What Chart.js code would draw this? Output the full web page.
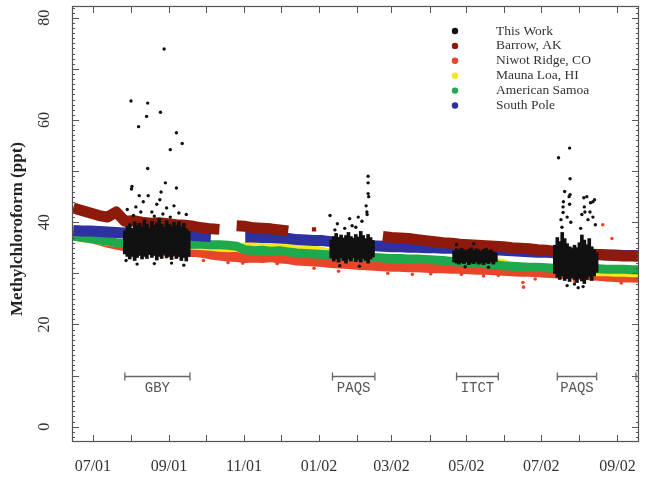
<!DOCTYPE html>
<html><head><meta charset="utf-8">
<script src="https://cdn.jsdelivr.net/npm/chart.js@4.4.1/dist/chart.umd.min.js"></script>
<style>html,body{margin:0;padding:0;background:#fff}canvas{display:block}</style>
</head><body><canvas id="c" width="646" height="478"></canvas>
<script>
// ---------- DATA (x = days since 1 July 2001, y = ppt) ----------
const seriesNames  = ['This Work','Barrow, AK','Niwot Ridge, CO','Mauna Loa, HI','American Samoa','South Pole'];
const seriesColors = ['#111111','#8e1a0c','#e8452a','#f6e61c','#1fa84c','#2d31a2'];

const weekDays = [-16,-9,-2,5,12,19,26,33,40,47,54,61,68,75,82,89,96,103,110,117,
  124,131,138,145,152,159,166,173,180,187,194,201,208,215,222,229,236,243,250,257,
  264,271,278,285,292,299,306,313,320,327,334,341,348,355,362,369,376,383,390,397,
  404,411,418,425,432,439,446];

const barrow = [42.8,42.3,41.8,41.3,41.0,42.0,40.2,40.3,40.0,39.8,39.9,39.7,39.5,39.4,39.2,38.9,38.7,38.6,null,39.3,
  39.2,38.9,38.8,38.7,38.5,38.3,null,null,38.6,null,null,null,null,null,null,null,37.2,37.0,36.9,36.8,
  36.6,36.4,36.2,36.0,35.9,35.7,35.6,35.5,35.4,35.3,35.2,35.0,34.9,34.8,34.6,34.5,34.3,34.2,34.0,33.9,
  33.8,33.7,33.6,33.5,33.4,33.4,33.3];

const southPole = [38.4,38.3,38.3,38.2,38.1,38.0,37.9,37.8,37.8,37.7,37.7,37.6,37.6,37.5,37.4,37.3,37.2,null,null,null,
  37.1,37.1,37.0,37.0,36.9,36.8,36.6,36.5,36.4,36.4,36.2,36.0,35.9,35.7,35.6,35.4,35.3,35.2,35.2,35.1,
  35.1,35.0,35.0,34.9,34.9,34.8,34.8,34.7,34.6,34.6,34.5,34.4,34.3,34.2,34.1,34.1,34.0,33.9,33.8,33.8,
  33.7,33.7,33.6,33.6,33.5,33.5,33.4];

const samoa = [37.3,37.0,36.8,36.5,36.3,36.0,35.8,35.8,35.8,35.7,35.7,35.6,35.6,35.6,35.7,35.7,35.6,35.6,35.5,35.3,
  34.6,34.4,34.5,34.3,34.4,34.2,34.0,33.9,33.8,33.7,33.6,33.5,33.4,33.3,33.2,33.1,33.0,32.9,32.9,32.8,
  32.8,32.7,32.6,32.5,32.3,32.2,32.1,32.0,31.8,31.7,31.5,31.4,31.3,31.2,31.2,31.1,31.0,31.0,30.9,30.9,
  30.9,30.9,30.8,30.8,30.8,30.7,30.7];

const maunaLoa = [37.0,36.7,36.4,36.2,36.0,35.8,35.6,35.5,35.4,35.4,35.3,35.3,35.2,35.2,35.2,35.1,35.0,34.8,34.7,34.8,
  35.5,35.7,35.6,35.4,35.6,35.3,35.0,34.9,34.8,34.6,34.2,34.0,33.8,33.6,33.4,33.3,33.2,33.0,32.9,32.8,
  32.8,32.7,32.6,32.5,32.3,32.2,32.1,32.0,31.9,32.4,32.2,31.5,31.3,31.1,31.0,30.9,30.8,30.7,30.6,30.4,
  30.2,30.0,30.0,29.9,29.9,29.8,29.8];

const niwot = [38.0,37.4,36.9,36.5,36.0,35.6,35.3,35.0,34.8,34.6,34.5,34.3,34.2,34.1,34.2,34.0,33.7,33.5,33.3,33.2,
  33.0,33.1,33.0,33.2,32.9,32.8,32.5,32.4,32.3,32.2,32.0,31.9,31.8,31.7,31.6,31.5,31.4,31.3,31.3,31.2,
  31.2,31.1,31.0,31.0,30.9,30.9,30.8,30.7,30.7,30.6,30.5,30.4,30.3,30.3,30.2,30.1,30.0,29.9,29.8,29.7,
  29.6,29.5,29.4,29.3,29.2,29.2,29.1];

const niwotExtraDays   = [415,422.5,350,350.5,260,330,200,110,90,150,240,300,360,430,180,60,275,318,392,122];
const niwotExtraValues = [39.5,36.8,28.2,27.3,29.8,29.6,30.4,32.1,32.5,31.9,30.0,29.8,28.9,28.1,31.0,33.2,29.9,29.5,28.6,32.0];

// This Work: daily ranges of the dense measurement clouds (GBY, PAQS, ITCT, PAQS)
const thisWorkDays = [26,28,30,32,34,36,38,40,42,44,46,48,50,52,54,56,58,60,62,64,66,68,70,72,74,76,78,
  194,196,198,200,202,204,206,208,210,212,214,216,218,220,222,224,226,228,
  294,296,298,300,302,304,306,308,310,312,314,316,318,320,322,324,326,328,
  376,378,380,382,384,386,388,390,392,394,396,398,400,402,404,406,408,410];
const thisWorkLow = [33.8,33.3,32.8,33.3,32.5,33.1,33.5,32.8,33.3,32.9,33.7,33.1,33.5,32.6,33.3,32.9,33.7,33.1,33.3,32.7,33.5,32.9,33.3,32.5,33.1,32.4,33.3,
  33.0,32.4,32.8,32.2,33.0,32.5,32.0,32.8,32.4,33.0,32.3,32.7,32.2,32.9,32.5,32.0,32.8,33.2,
  32.2,32.0,31.8,32.1,31.9,32.2,31.7,32.0,31.9,32.2,31.8,32.0,31.7,32.1,31.9,32.2,31.8,32.3,
  30.0,29.2,28.8,29.5,28.6,29.0,28.4,29.2,28.8,28.2,29.0,28.5,28.0,28.8,29.4,28.6,29.5,30.2];
const thisWorkHigh = [38.3,39.2,39.7,38.8,40.1,39.4,39.8,39.1,40.5,39.6,38.9,40.2,39.4,39.9,40.7,39.6,39.0,40.3,39.6,39.2,40.0,39.4,40.1,39.1,39.8,38.7,38.2,
  36.5,37.2,37.8,37.0,37.5,36.8,37.4,38.0,37.2,36.9,37.6,37.1,38.2,37.4,36.8,37.6,37.0,36.4,
  34.4,34.8,34.5,34.9,34.6,34.4,34.7,35.0,34.5,34.8,34.6,34.3,34.7,34.9,34.4,34.6,34.2,34.0,
  35.5,37.0,36.2,38.0,36.8,35.8,35.2,34.8,35.5,35.0,36.0,37.5,36.5,35.6,36.8,35.2,34.6,34.0];

// This Work: individual points outside the dense clouds
const outlierDays = [58,31,44.6,55,43.7,37.2,68,72.7,63,44.6,31.8,31.4,59,68,55.5,37.7,45,54.5,28,35,41,48,52,60,66,70,76,33,57,39,63,50,36,50,64,74,27,
  224,224,224,224.5,222.4,223,193,199,209,216,223.2,211,205,214,219,197,201,217,
  296,310,322,303,
  379,388,388.4,384,388.4,399.6,408.3,387.6,382.7,382.7,407,400.5,404.6,381.8,381,383,386,388,389,398,400,403,405,407,409,402,397,399,395,386,392];
const outlierValues = [73.9,63.7,63.3,61.5,60.7,58.7,57.5,55.4,54.2,50.5,47.0,46.5,47.7,46.7,45.9,45.2,45.2,44.4,42.5,43.0,44.0,42.0,43.5,42.8,43.2,41.8,41.5,41.3,41.6,42.0,41.0,41.2,31.8,31.9,32.0,31.6,32.5,
  49.0,47.7,45.6,45.0,43.2,42.0,41.3,39.7,40.7,41.0,41.5,39.3,38.8,39.0,40.2,38.5,31.5,31.4,
  35.6,35.8,31.2,31.3,
  52.6,54.5,48.5,46.0,45.4,44.8,44.4,45.0,43.0,41.9,44.0,42.0,42.0,39.0,40.5,44.0,41.0,43.5,40.0,41.5,43.0,40.5,43.8,41.0,39.5,45.0,38.8,27.4,27.2,27.6,27.9];

// Field campaigns
const campaignLabels = ['GBY','PAQS','ITCT','PAQS',''];
const campaignStart  = [26,195,296,378,442];
const campaignEnd    = [79,229.5,330,410,470];
const campaignLevel  = 10;   // ppt, bracket height
const campaignTextLevel = 7.5;

// Axis ticks
const monthTickDays = [0,31,62,92,123,153,184,215,243,274,304,335,365,396,427];
const xLabelDays = [0,62,123,184,243,304,365,427];
const xLabels = ['07/01','09/01','11/01','01/02','03/02','05/02','07/02','09/02'];
const yTickValues = [0,20,40,60,80];
const yTitle = 'Methylchloroform (ppt)';

// ---------- CHART ----------
const pts = (xs, ys) => xs.map((d, i) => ({x: d, y: ys[i]}));
function lineSet(name, vals, color, width, order) {
  return {
    type: 'line', label: name, data: pts(weekDays, vals), order: order,
    borderColor: color, backgroundColor: color, borderWidth: width,
    borderJoinStyle: 'round', borderCapStyle: 'butt', tension: 0, spanGaps: false,
    pointRadius: (c) => {
      const v = vals[c.dataIndex];
      const prev = vals[c.dataIndex - 1], next = vals[c.dataIndex + 1];
      return (v != null && prev == null && next == null) ? 3 : 0;
    },
    pointStyle: 'rect',
    pointBorderWidth: 0, pointBackgroundColor: color
  };
}

const decor = {
  id: 'decor',
  afterDraw(chart) {
    const {ctx, chartArea: a, scales: {x, y}} = chart;
    ctx.save();
    const line = (x1, y1, x2, y2) => { ctx.beginPath(); ctx.moveTo(x1, y1); ctx.lineTo(x2, y2); ctx.stroke(); };
    ctx.strokeStyle = '#555'; ctx.lineWidth = 1.2;
    ctx.strokeRect(a.left + 0.5, a.top + 0.5, a.right - a.left - 1, a.bottom - a.top - 1);
    ctx.lineWidth = 1;
    // month ticks, bottom and top, pointing inward
    monthTickDays.forEach(d => {
      const px = Math.round(x.getPixelForValue(d)) + 0.5;
      line(px, a.bottom, px, a.bottom - 7);
      line(px, a.top, px, a.top + 7);
    });
    // y ticks left & right
    for (let v = -2; v <= 82; v++) {
      const py = Math.round(y.getPixelForValue(v)) + 0.5;
      const len = (v % 10 === 0) ? 7 : 3;
      line(a.left, py, a.left + len, py);
      line(a.right, py, a.right - len, py);
    }
    // tick labels
    ctx.fillStyle = '#333';
    ctx.font = '16px "Liberation Serif", "Times New Roman", serif';
    ctx.textAlign = 'center'; ctx.textBaseline = 'middle';
    xLabelDays.forEach((d, i) => ctx.fillText(xLabels[i], x.getPixelForValue(d), a.bottom + 25));
    yTickValues.forEach(v => {
      ctx.save(); ctx.translate(a.left - 27, y.getPixelForValue(v)); ctx.rotate(-Math.PI / 2);
      ctx.fillText(String(v), 0, 0); ctx.restore();
    });
    // y title
    ctx.save();
    ctx.font = 'bold 17px "Liberation Serif", "Times New Roman", serif';
    ctx.fillStyle = '#222';
    ctx.translate(18, (a.top + a.bottom) / 2 + 5); ctx.rotate(-Math.PI / 2);
    ctx.fillText(yTitle, 0, 0);
    ctx.restore();
    // campaign brackets
    ctx.save();
    ctx.beginPath(); ctx.rect(a.left, a.top, a.right - a.left, a.bottom - a.top); ctx.clip();
    ctx.strokeStyle = '#666'; ctx.lineWidth = 1.3;
    ctx.fillStyle = '#555';
    ctx.font = '14px "Liberation Mono", "Courier New", monospace';
    const by = Math.round(y.getPixelForValue(campaignLevel)) + 0.5;
    const ty = y.getPixelForValue(campaignTextLevel);
    campaignLabels.forEach((lab, i) => {
      const x1 = x.getPixelForValue(campaignStart[i]), x2 = x.getPixelForValue(campaignEnd[i]);
      line(x1, by, x2, by); line(x1, by - 4, x1, by + 4); line(x2, by - 4, x2, by + 4);
      if (lab) ctx.fillText(lab, (x1 + x2) / 2, ty);
    });
    ctx.restore();
    // legend
    ctx.font = '13.5px "Liberation Serif", "Times New Roman", serif';
    ctx.textAlign = 'left';
    seriesNames.forEach((n, i) => {
      const ly = 31 + i * 14.9;
      ctx.fillStyle = seriesColors[i];
      ctx.beginPath(); ctx.arc(455, ly, 3.2, 0, Math.PI * 2); ctx.fill();
      ctx.fillStyle = '#333';
      ctx.fillText(n, 496, ly);
    });
    ctx.restore();
  }
};

new Chart(document.getElementById('c'), {
  type: 'line',
  data: {
    datasets: [
      { type: 'scatter', label: 'This Work', data: pts(outlierDays, outlierValues), order: 0,
        pointRadius: 1.7, pointBorderWidth: 0, backgroundColor: seriesColors[0], pointBackgroundColor: seriesColors[0] },
      { type: 'bar', label: 'This Work clouds', data: thisWorkDays.map((d, i) => ({x: d, y: [thisWorkLow[i], thisWorkHigh[i]]})),
        order: 1, backgroundColor: seriesColors[0], borderWidth: 0, barThickness: 3, grouped: false },
      { type: 'scatter', label: 'Niwot extra', data: pts(niwotExtraDays, niwotExtraValues), order: 1.5,
        pointRadius: 1.8, pointBorderWidth: 0, backgroundColor: seriesColors[2], pointBackgroundColor: seriesColors[2] },
      lineSet(seriesNames[1], barrow, seriesColors[1], 11, 2),
      lineSet(seriesNames[5], southPole, seriesColors[5], 11, 3),
      lineSet(seriesNames[4], samoa, seriesColors[4], 9, 4),
      lineSet(seriesNames[3], maunaLoa, seriesColors[3], 6, 5),
      lineSet(seriesNames[2], niwot, seriesColors[2], 10, 6)
    ]
  },
  options: {
    responsive: false, devicePixelRatio: 1, animation: false, events: [],
    layout: { padding: { left: 72, right: 7, top: 6, bottom: 36 } },
    plugins: { legend: { display: false }, tooltip: { enabled: false } },
    scales: {
      x: { type: 'linear', min: -17, max: 444.5, display: false, offset: false },
      y: { type: 'linear', min: -3, max: 82.3, display: false }
    }
  },
  plugins: [decor]
});
</script>
</body></html>
